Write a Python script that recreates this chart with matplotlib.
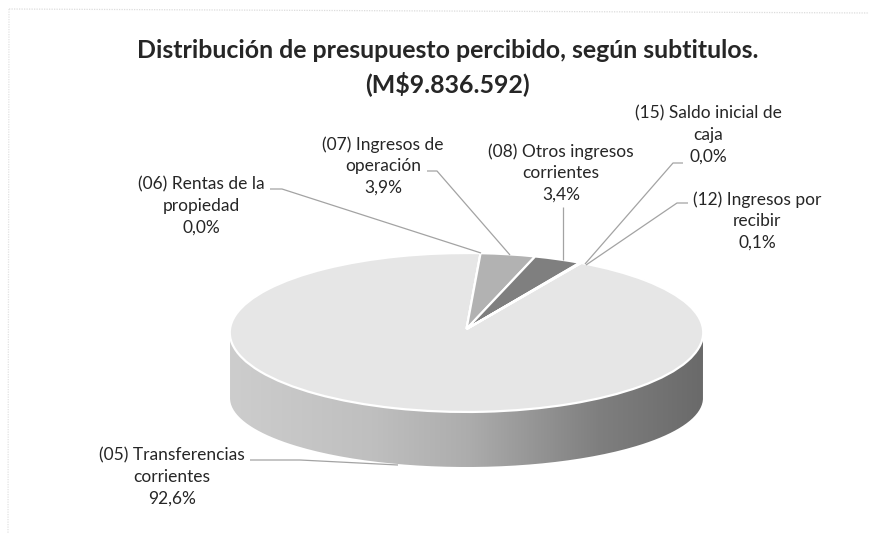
import numpy as np
import matplotlib
matplotlib.use("Agg")
import matplotlib.pyplot as plt
from matplotlib.transforms import Transform
from matplotlib.path import Path
from matplotlib.patches import PathPatch
from matplotlib.colors import LinearSegmentedColormap

# ---- data ----
categories = ["(05) Transferencias\ncorrientes", "(06) Rentas de la\npropiedad",
              "(07) Ingresos de\noperación", "(08) Otros ingresos\ncorrientes",
              "(12) Ingresos por\nrecibir", "(15) Saldo inicial de\ncaja"]
shares = [92.6, 0.0, 3.9, 3.4, 0.1, 0.0]
share_labels = ["92,6%", "0,0%", "3,9%", "3,4%", "0,1%", "0,0%"]
title = "Distribución de presupuesto percibido, según subtitulos.\n(M$9.836.592)"

# ---- style / layout (figure pixels) ----
slice_colors = ["#e6e6e6", "#d0d0d0", "#b2b2b2", "#7f7f7f", "#cfcfcf", "#bbbbbb"]
text_color = "#262626"
leader_color = "#a3a3a3"
label_xy = [(172, 477), (201, 206), (383, 166), (561, 173), (757, 221), (708, 135)]
leaders = [
    [(250, 460), (300, 460), (398, 465)],
    [(270, 189), (282, 189), (481, 253)],
    [(427, 171), (437, 171), (510, 255)],
    [(563, 207), (563, 260)],
    [(688, 203), (677, 203), (586, 265)],
    [(683, 163), (673, 163), (585, 264)],
]
CX, CY, RX, RY, K = 466.5, 329.0, 236.5, 79.3, 0.044


class Tilt(Transform):
    """Perspective view of the unit-radius pie, in figure pixels."""
    input_dims = output_dims = 2

    def transform_non_affine(self, values):
        v = np.asarray(values, float)
        d = 1 + K * v[:, 1]
        return np.column_stack([CX + RX * v[:, 0] / d, CY - RY * v[:, 1] / d])


plt.rcParams["font.family"] = ["Lato", "DejaVu Sans"]
fig = plt.figure(figsize=(8.7, 5.33), dpi=100, facecolor="white")
ax = fig.add_axes([0, 0, 1, 1])

wedges, _ = ax.pie(shares, colors=slice_colors, startangle=59.8, counterclock=False,
                   wedgeprops=dict(edgecolor="white", linewidth=1.6, zorder=3))
tilt = Tilt() + ax.transData
for w in wedges:
    w.set_transform(tilt)
    w.set_clip_on(False)

ax.set_aspect("auto")
ax.set_axis_off()

# side wall of the pie (belongs to the large slice)
t = np.linspace(0, np.pi, 160)
wall_x = 466.5 + 236.5 * np.cos(t)
wall_y = 398 + 69 * np.sin(t)
wall = np.vstack([[(703, 338)], np.column_stack([wall_x, wall_y]), [(230, 338)], [(703, 338)]])
wall_patch = PathPatch(Path(wall), fc="none", ec="none", transform=ax.transData)
ax.add_patch(wall_patch)
cmap = LinearSegmentedColormap.from_list("wall", [(0, "#cdcdcd"), (0.3, "#bfbfbf"), (0.5, "#adadad"),
                                                  (0.78, "#7f7f7f"), (1, "#6a6a6a")])
im = ax.imshow(np.linspace(0, 1, 256)[None, :], cmap=cmap, extent=(230, 703, 468, 338),
               aspect="auto", zorder=2)
im.set_clip_path(wall_patch)
ax.set_xlim(0, 870)
ax.set_ylim(533, 0)

# border of the chart area
ax.plot([9, 870], [9, 13], color="#dcdcdc", lw=0.9, ls=(0, (1, 1)), zorder=1)
ax.plot([9, 8], [9, 533], color="#e2e2e2", lw=0.9, ls=(0, (1, 1)), zorder=1)

for pts in leaders:
    xs, ys = zip(*pts)
    ax.plot(xs, ys, color=leader_color, lw=0.9, zorder=4, solid_capstyle="butt")

for cat, pct, (x, y) in zip(categories, share_labels, label_xy):
    ax.text(x, y, f"{cat}\n{pct}", ha="center", va="center", fontsize=12.5,
            color=text_color, linespacing=1.42, zorder=5)

ax.text(447.5, 67.5, title, ha="center", va="center", fontsize=17.9, fontweight="bold",
        color=text_color, linespacing=1.47, zorder=5)

fig.savefig("out.png", dpi=100)
